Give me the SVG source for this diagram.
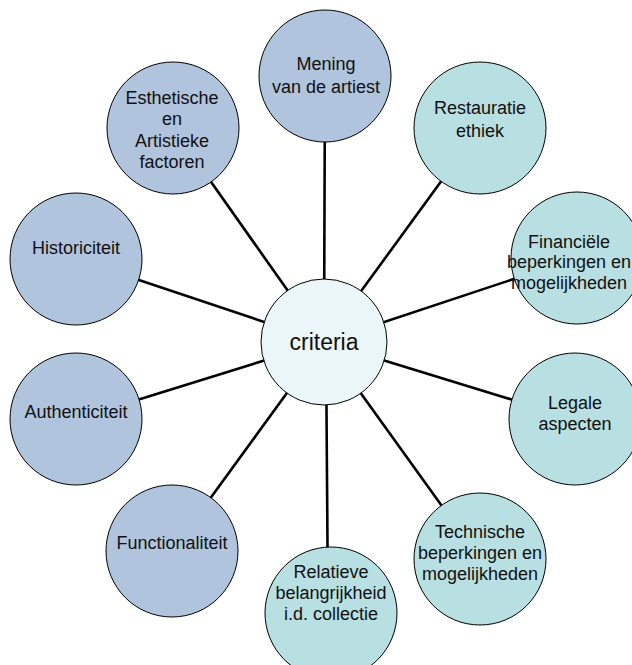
<svg xmlns="http://www.w3.org/2000/svg" width="632" height="665" viewBox="0 0 632 665">
<style>
.bg{fill:#ffffff}
.c{stroke:#000;stroke-width:1}
.blue{fill:#B0C4DE}
.teal{fill:#B8DFE2}
.hub{fill:#EAF6F7}
.t{font-family:"Liberation Sans",Arial,sans-serif;font-size:18px;fill:#111;text-anchor:middle}
.big{font-size:23px}
.conn line{stroke:#000;stroke-width:2.6}
</style>
<rect class="bg" x="0" y="0" width="632" height="665"/>
<g id="connectors" class="conn">
<line x1="324" y1="342" x2="325" y2="76"/>
<line x1="324" y1="342" x2="480" y2="128"/>
<line x1="324" y1="342" x2="577" y2="258"/>
<line x1="324" y1="342" x2="575" y2="419"/>
<line x1="324" y1="342" x2="480" y2="559"/>
<line x1="326" y1="342" x2="328" y2="613"/>
<line x1="324" y1="342" x2="172" y2="551"/>
<line x1="324" y1="342" x2="76" y2="419"/>
<line x1="324" y1="342" x2="76" y2="259"/>
<line x1="324" y1="342" x2="173" y2="128"/>
</g>
<g id="node-mening">
<circle class="c blue" cx="325" cy="76" r="66"/>
<text class="t" x="326" y="70">Mening</text>
<text class="t" x="326" y="93">van de artiest</text>
</g>
<g id="node-restauratie">
<circle class="c teal" cx="480" cy="128" r="66"/>
<text class="t" x="480" y="114">Restauratie</text>
<text class="t" x="480" y="137">ethiek</text>
</g>
<g id="node-financiele">
<circle class="c teal" cx="577" cy="258" r="66"/>
<text class="t" x="569" y="248">Financiële</text>
<text class="t" x="569" y="268">beperkingen en</text>
<text class="t" x="569" y="289">mogelijkheden</text>
</g>
<g id="node-legale">
<circle class="c teal" cx="575" cy="419" r="66"/>
<text class="t" x="575" y="409">Legale</text>
<text class="t" x="575" y="430">aspecten</text>
</g>
<g id="node-technische">
<circle class="c teal" cx="480" cy="559" r="66"/>
<text class="t" x="480" y="538">Technische</text>
<text class="t" x="480" y="559">beperkingen en</text>
<text class="t" x="480" y="580">mogelijkheden</text>
</g>
<g id="node-relatieve">
<circle class="c teal" cx="331" cy="613" r="66"/>
<text class="t" x="331" y="578">Relatieve</text>
<text class="t" x="331" y="599">belangrijkheid</text>
<text class="t" x="331" y="620">i.d. collectie</text>
</g>
<g id="node-functionaliteit">
<circle class="c blue" cx="172" cy="551" r="66"/>
<text class="t" x="172" y="549">Functionaliteit</text>
</g>
<g id="node-authenticiteit">
<circle class="c blue" cx="76" cy="419" r="66"/>
<text class="t" x="76" y="418">Authenticiteit</text>
</g>
<g id="node-historiciteit">
<circle class="c blue" cx="76" cy="259" r="66"/>
<text class="t" x="76" y="254">Historiciteit</text>
</g>
<g id="node-esthetische">
<circle class="c blue" cx="173" cy="128" r="66"/>
<text class="t" x="172" y="104">Esthetische</text>
<text class="t" x="172" y="125">en</text>
<text class="t" x="172" y="147">Artistieke</text>
<text class="t" x="172" y="168">factoren</text>
</g>
<g id="node-criteria">
<circle class="c hub" cx="324" cy="342" r="63"/>
<text class="t big" x="324" y="350">criteria</text>
</g>
</svg>
